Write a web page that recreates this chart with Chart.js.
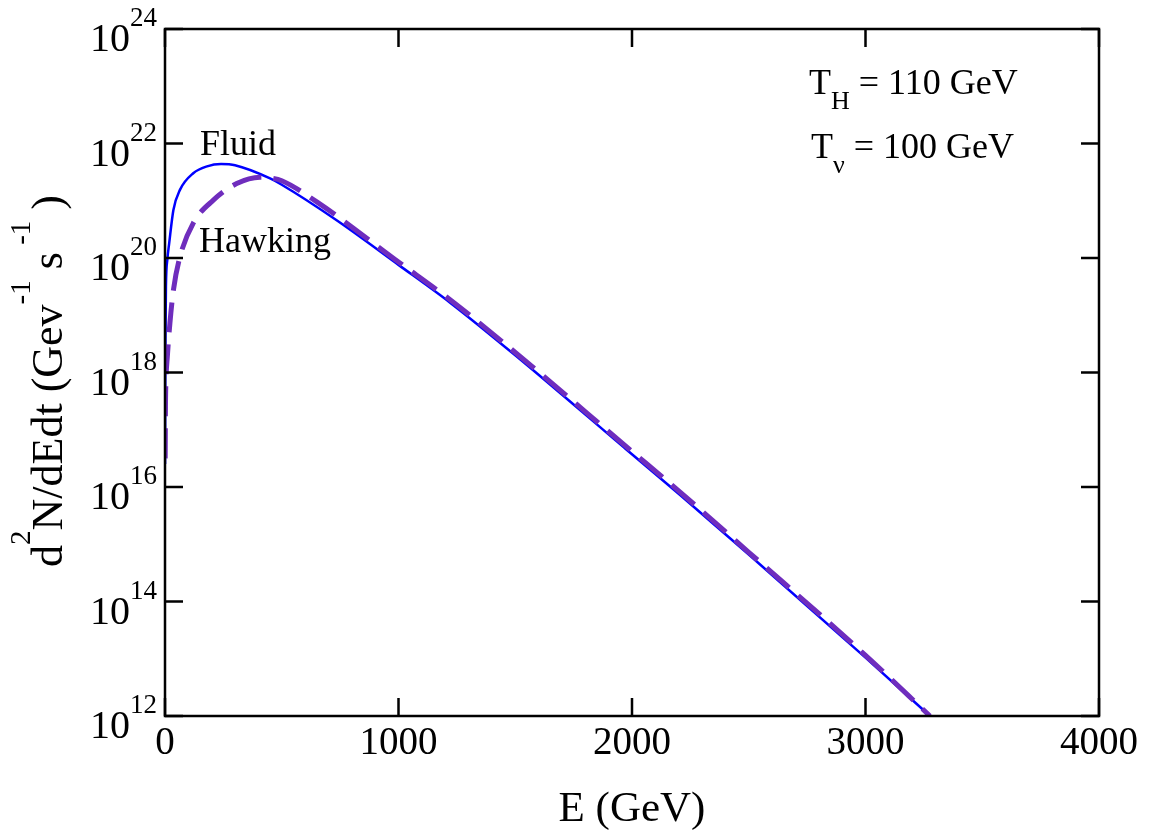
<!DOCTYPE html>
<html>
<head>
<meta charset="utf-8">
<script src="https://cdn.jsdelivr.net/npm/chart.js@4.4.0/dist/chart.umd.min.js"></script>
<style>
html, body { margin: 0; padding: 0; background: #fff; }
#wrap { width: 1153px; height: 836px; }
</style>
</head>
<body>
<div id="wrap"><canvas id="chart1"></canvas></div>
<script>
// E in GeV, log10(d2N/dEdt)
var fluidE = [0.3, 1, 2, 4, 10, 18, 36, 64, 121, 180, 240, 300, 450, 500, 735, 1000, 1221, 1500, 1977, 2206, 2500, 3000, 3276];
var fluidLog = [16.4, 17.6, 18.6, 19.5, 19.97, 20.26, 20.84, 21.19, 21.48, 21.60, 21.64, 21.62, 21.39, 21.28, 20.66, 19.88, 19.22, 18.30, 16.65, 15.86, 14.82, 13.02, 12.0];

var hawkE = [0.8, 2, 4, 10, 21, 36, 64, 121, 207, 307, 407, 450, 500, 650, 1000, 1221, 1500, 1977, 2206, 2500, 3000, 3276];
var hawkLog = [16.5, 17.4, 17.85, 18.28, 18.86, 19.44, 20.02, 20.61, 21.01, 21.30, 21.41, 21.40, 21.35, 20.98, 19.93, 19.27, 18.35, 16.70, 15.91, 14.86, 13.06, 12.0];

var xTicks = [0, 1000, 2000, 3000, 4000];
var yExponents = [12, 14, 16, 18, 20, 22, 24];

var SERIF = '"Liberation Serif", "Times New Roman", serif';

function toPoints(xs, logs) {
    return xs.map(function(e, i) {
        return { x: e, y: Math.pow(10, logs[i]) };
    });
}

// draws a row of [text, size, dy] pieces starting at x
function drawPieces(ctx, pieces, x, y) {
    pieces.forEach(function(p) {
        ctx.font = p[1] + 'px ' + SERIF;
        ctx.fillText(p[0], x, y + p[2]);
        x += ctx.measureText(p[0]).width;
    });
}

function piecesWidth(ctx, pieces) {
    var w = 0;
    pieces.forEach(function(p) {
        ctx.font = p[1] + 'px ' + SERIF;
        w += ctx.measureText(p[0]).width;
    });
    return w;
}

var framePlugin = {
    id: 'frame',
    afterDraw: function(chart) {
        var ctx = chart.ctx;
        var a = chart.chartArea;
        var sx = chart.scales.x;
        var sy = chart.scales.y;
        var tick = 18;

        ctx.save();
        ctx.strokeStyle = '#000';
        ctx.fillStyle = '#000';
        ctx.lineWidth = 2.5;
        ctx.strokeRect(a.left, a.top, a.right - a.left, a.bottom - a.top);

        ctx.beginPath();
        xTicks.forEach(function(v) {
            var px = sx.getPixelForValue(v);
            ctx.moveTo(px, a.bottom); ctx.lineTo(px, a.bottom - tick);
            ctx.moveTo(px, a.top); ctx.lineTo(px, a.top + tick);
        });
        yExponents.forEach(function(e) {
            var py = sy.getPixelForValue(Math.pow(10, e));
            ctx.moveTo(a.left, py); ctx.lineTo(a.left + tick, py);
            ctx.moveTo(a.right, py); ctx.lineTo(a.right - tick, py);
        });
        ctx.stroke();

        // x tick labels
        ctx.textBaseline = 'alphabetic';
        ctx.textAlign = 'center';
        ctx.font = '39px ' + SERIF;
        xTicks.forEach(function(v) {
            ctx.fillText(String(v), sx.getPixelForValue(v), a.bottom + 38);
        });

        // y tick labels, 10 with raised exponent
        ctx.textAlign = 'right';
        yExponents.forEach(function(e) {
            var py = sy.getPixelForValue(Math.pow(10, e));
            ctx.font = '27px ' + SERIF;
            var we = ctx.measureText(String(e)).width;
            ctx.fillText(String(e), a.left - 8, py - 3);
            ctx.font = '40px ' + SERIF;
            ctx.fillText('10', a.left - 8 - we, py + 22);
        });

        ctx.textAlign = 'left';

        // curve labels
        ctx.font = '36px ' + SERIF;
        ctx.fillText('Fluid', 200, 155);
        ctx.fillText('Hawking', 199, 252);

        // temperatures
        drawPieces(ctx, [['T', 36, 0], ['H', 26, 15], [' = 110 GeV', 36, 0]], 809, 94);
        drawPieces(ctx, [['T', 36, 0], ['\u03bd', 26, 15], [' = 100 GeV', 36, 0]], 811, 158);

        // x axis title
        ctx.textAlign = 'center';
        ctx.font = '43px ' + SERIF;
        ctx.fillText('E (GeV)', (a.left + a.right) / 2, 821);

        // y axis title, rotated
        ctx.textAlign = 'left';
        var yt = [['d', 44, 0], ['2', 29, -32], ['N/dEdt (Gev', 44, 0], ['-1', 29, -32], [' s', 44, 0], [' -1', 29, -32], [' )', 44, 0]];
        var w = piecesWidth(ctx, yt);
        ctx.translate(62, 381);
        ctx.rotate(-Math.PI / 2);
        drawPieces(ctx, yt, -w / 2, 0);
        ctx.restore();
    }
};

var ctx1 = document.getElementById('chart1').getContext('2d');
var chart1 = new Chart(ctx1, {
    type: 'line',
    data: {
        datasets: [
            {
                label: 'Fluid',
                data: toPoints(fluidE, fluidLog),
                borderColor: '#0000ff',
                borderWidth: 2.5,
                pointRadius: 0,
                fill: false,
                cubicInterpolationMode: 'monotone',
                order: 1
            },
            {
                label: 'Hawking',
                data: toPoints(hawkE, hawkLog),
                borderColor: '#6f2dbd',
                borderWidth: 5,
                borderDash: [30, 12],
                pointRadius: 0,
                fill: false,
                cubicInterpolationMode: 'monotone',
                order: 0
            }
        ]
    },
    options: {
        responsive: true,
        maintainAspectRatio: false,
        animation: false,
        layout: {
            padding: { left: 165, top: 29, right: 54, bottom: 120 }
        },
        plugins: {
            legend: { display: false },
            tooltip: { enabled: false }
        },
        scales: {
            x: {
                type: 'linear',
                min: 0,
                max: 4000,
                display: false
            },
            y: {
                type: 'logarithmic',
                min: 1e12,
                max: 1e24,
                display: false
            }
        }
    },
    plugins: [framePlugin]
});
</script>
</body>
</html>
